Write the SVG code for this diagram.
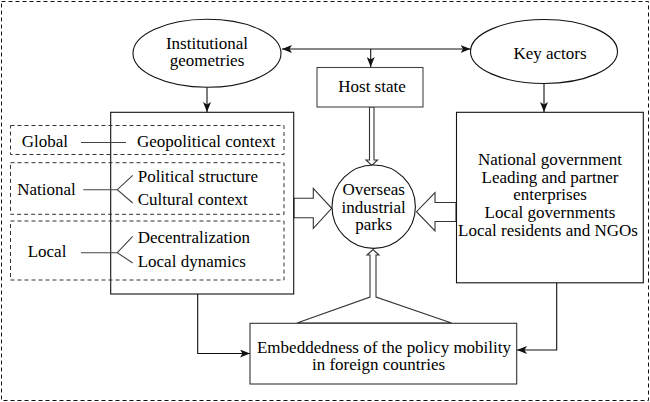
<svg xmlns="http://www.w3.org/2000/svg" width="650" height="402" viewBox="0 0 650 402">
<defs>
<style>
text{font-family:"Liberation Serif","Times New Roman",serif;font-size:17px;fill:#000}
.c{text-anchor:middle}
.s{fill:#fff;stroke:#111;stroke-width:1.1}
.d{fill:none;stroke:#333;stroke-width:1;stroke-dasharray:4,3}
.l{fill:none;stroke:#111;stroke-width:1.1}
.g{fill:none;stroke:#444;stroke-width:1.1}
.h{fill:#fff;stroke:#333;stroke-width:1.1}
</style>
<marker id="ah" viewBox="0 0 10 8" refX="10" refY="4" markerWidth="10" markerHeight="8" markerUnits="userSpaceOnUse" orient="auto-start-reverse">
<path d="M0,0 L10,4 L0,8 L2.5,4 z" fill="#111"/>
</marker>
</defs>
<rect x="1.5" y="1.5" width="647" height="399" class="d" style="stroke:#111"/>

<g id="connectors">
<line x1="282" y1="49" x2="470.5" y2="49" class="l" marker-start="url(#ah)" marker-end="url(#ah)"/>
<line x1="370.7" y1="49" x2="370.7" y2="67" class="l" marker-end="url(#ah)"/>
<line x1="207" y1="87" x2="207" y2="112" class="l" marker-end="url(#ah)"/>
<line x1="544" y1="84" x2="544" y2="112" class="l" marker-end="url(#ah)"/>
<polyline points="197.7,294 197.7,353.5 250,353.5" class="l" marker-end="url(#ah)"/>
<polyline points="556.7,283 556.7,350 517,350" class="l" marker-end="url(#ah)"/>
<polygon points="369.5,107 369.5,160 366,160 371.75,165.5 377.5,160 374,160 374,107" class="h"/>
<polygon points="294,198.3 313.3,198.3 313.3,188.3 331.7,208.3 313.3,228.3 313.3,217.7 294,217.7" class="h"/>
<polygon points="456,202.5 435,202.5 435,192.5 416.5,211.7 435,231 435,221.5 456,221.5" class="h"/>
<polygon points="297,323 370,297 370,255 367,255 373,249.5 379,255 376,255 376,297 451.5,323" class="h"/>
</g>

<g id="institutional-geometries">
<ellipse cx="207" cy="53.3" rx="74" ry="34" class="s"/>
<text x="207" y="48.5" class="c">Institutional</text>
<text x="207" y="66" class="c">geometries</text>
</g>

<g id="key-actors">
<ellipse cx="544" cy="51.5" rx="73.5" ry="32" class="s"/>
<text x="550" y="58.5" class="c">Key actors</text>
</g>

<g id="host-state">
<rect x="317" y="67.5" width="106" height="39.5" class="s" style="stroke:#444"/>
<text x="372" y="92" class="c">Host state</text>
</g>

<g id="institutional-box">
<rect x="110.7" y="112.3" width="183" height="181.7" class="l"/>
</g>

<g id="global">
<rect x="10.5" y="125.5" width="273.5" height="29" class="d"/>
<text x="21.7" y="146.7">Global</text>
<line x1="81" y1="142.5" x2="126" y2="142.5" class="g"/>
<text x="137" y="146.7">Geopolitical context</text>
</g>

<g id="national">
<rect x="10.5" y="162.7" width="273.5" height="51.6" class="d"/>
<text x="17.3" y="195">National</text>
<polyline points="83.3,189.7 117.3,189.7" class="g"/>
<polyline points="132.7,175.3 117.3,189.7 132.7,203" class="g"/>
<text x="137.7" y="181.7">Political structure</text>
<text x="137.7" y="205">Cultural context</text>
</g>

<g id="local">
<rect x="10.5" y="221" width="273.5" height="59" class="d"/>
<text x="27.7" y="257">Local</text>
<polyline points="81,252.7 117.3,252.7" class="g"/>
<polyline points="132.7,236.3 117.3,252.7 132.7,263" class="g"/>
<text x="137.7" y="243.3">Decentralization</text>
<text x="137.7" y="266.7">Local dynamics</text>
</g>

<g id="overseas-industrial-parks">
<circle cx="373.7" cy="206.7" r="41.7" class="s"/>
<text x="373.7" y="195" class="c">Overseas</text>
<text x="373.7" y="212.7" class="c">industrial</text>
<text x="373.7" y="230" class="c">parks</text>
</g>

<g id="actors-box">
<rect x="456.5" y="112.3" width="186.8" height="170.5" class="s"/>
<text x="550" y="165" class="c">National government</text>
<text x="550" y="183.3" class="c">Leading and partner</text>
<text x="550" y="200.3" class="c">enterprises</text>
<text x="550" y="218.3" class="c">Local governments</text>
<text x="548" y="236" class="c">Local residents and NGOs</text>
</g>

<g id="embeddedness">
<rect x="250" y="323.3" width="266.7" height="60.7" class="s" style="stroke:#333"/>
<text x="384" y="353.3" class="c">Embeddedness of the policy mobility</text>
<text x="378.5" y="370" class="c">in foreign countries</text>
</g>
</svg>
